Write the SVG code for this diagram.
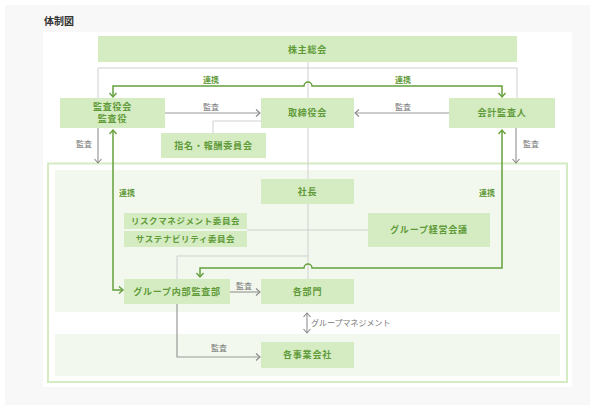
<svg xmlns="http://www.w3.org/2000/svg" width="595" height="411" viewBox="0 0 595 411">
<style>
.box{fill:#d5ecc3}
.bt{font-family:"Noto Sans CJK JP","Noto Sans",sans-serif;font-size:9px;font-weight:700;fill:#5f9a38;text-anchor:middle;letter-spacing:0.8px}
.bs{font-size:8.5px;letter-spacing:0.6px}
.lbl{font-family:"Noto Sans CJK JP","Noto Sans",sans-serif;font-size:8px;fill:#777;text-anchor:middle}
.gl{font-family:"Noto Sans CJK JP","Noto Sans",sans-serif;font-size:8px;font-weight:700;fill:#5f9a38;text-anchor:middle}
.thin{fill:none;stroke:#cfcfcf;stroke-width:1}
.ga{fill:none;stroke:#999;stroke-width:1.2}
.gr{fill:none;stroke:#65a03c;stroke-width:1.5}
</style>
<defs>
<marker id="ag" markerUnits="userSpaceOnUse" markerWidth="8" markerHeight="10" refX="5" refY="4" orient="auto-start-reverse">
<path d="M1,0.5 L5,4 L1,7.5" fill="none" stroke="#888" stroke-width="1.1"/>
</marker>
<marker id="agr" markerUnits="userSpaceOnUse" markerWidth="8" markerHeight="10" refX="5" refY="4" orient="auto-start-reverse">
<path d="M1,0.5 L5,4 L1,7.5" fill="none" stroke="#65a03c" stroke-width="1.4"/>
</marker>
</defs>
<rect x="5" y="5" width="585" height="400" fill="#f7f8f7"/>
<rect x="43" y="32" width="529" height="355" fill="#ffffff"/>
<text x="44" y="25" style="font-family:'Noto Sans CJK JP','Noto Sans',sans-serif;font-size:10px;font-weight:700;fill:#333">体制図</text>
<g id="container">
<rect x="48" y="163.5" width="519" height="218.5" fill="#ffffff" stroke="#d5ecc3" stroke-width="2"/>
<rect x="55" y="170" width="505" height="142" fill="#f3f8ee"/>
<rect x="55" y="334" width="505" height="42" fill="#f3f8ee"/>
</g>
<g id="connectors">
<path class="thin" d="M98,98 V68 H517 V98"/>
<path class="thin" d="M308,62 V279"/>
<path class="thin" d="M213,133 V121 H261"/>
<path class="thin" d="M247,230 H368"/>
<path class="thin" d="M308,256 H177 V279"/>
<path class="ga" d="M165,113 H260" marker-end="url(#ag)"/>
<path class="ga" d="M449,113 H355" marker-end="url(#ag)"/>
<path class="ga" d="M98,128 V163" marker-end="url(#ag)"/>
<path class="ga" d="M516,128 V163" marker-end="url(#ag)"/>
<path class="ga" d="M230,292 H260" marker-end="url(#ag)"/>
<path class="ga" d="M177,304 V357 H260" marker-end="url(#ag)"/>
<path class="ga" d="M307,313 V333" marker-start="url(#ag)" marker-end="url(#ag)"/>
<path class="gr" d="M113,97 V86 H304 A4,4 0 0 1 312,86 H502 V97" marker-start="url(#agr)" marker-end="url(#agr)"/>
<path class="gr" d="M113,130 V290 H123" marker-start="url(#agr)" marker-end="url(#agr)"/>
<path class="gr" d="M502,130 V268 H312 A4,4 0 0 0 304,268 H200 V277" marker-start="url(#agr)" marker-end="url(#agr)"/>
<text class="gl" x="211" y="83">連携</text>
<text class="gl" x="403" y="83">連携</text>
<text class="lbl" x="211" y="110">監査</text>
<text class="lbl" x="403" y="110">監査</text>
<text class="lbl" x="84" y="147">監査</text>
<text class="lbl" x="531" y="147">監査</text>
<text class="gl" x="127" y="196">連携</text>
<text class="gl" x="487" y="196">連携</text>
<text class="lbl" x="244" y="289">監査</text>
<text class="lbl" x="219" y="351">監査</text>
<text class="lbl" x="311" y="326" style="text-anchor:start">グループマネジメント</text>
</g>
<g id="n-shareholders"><rect class="box" x="98" y="36" width="419" height="26"/><text class="bt" x="307.5" y="52.5">株主総会</text></g>
<g id="n-auditboard"><rect class="box" x="60" y="98" width="105" height="30"/><text class="bt" x="112.5" y="110">監査役会</text><text class="bt" x="112.5" y="122">監査役</text></g>
<g id="n-board"><rect class="box" x="261" y="98" width="93" height="30"/><text class="bt" x="307.5" y="116">取締役会</text></g>
<g id="n-accountant"><rect class="box" x="449" y="98" width="106" height="30"/><text class="bt" x="502" y="116">会計監査人</text></g>
<g id="n-nomination"><rect class="box" x="161" y="133" width="105" height="25"/><text class="bt" x="213.5" y="148.5">指名・報酬委員会</text></g>
<g id="n-president"><rect class="box" x="261" y="179" width="93" height="25"/><text class="bt" x="307.5" y="194.5">社長</text></g>
<g id="n-risk"><rect class="box" x="124" y="213" width="123" height="16"/><text class="bt bs" x="185.5" y="224">リスクマネジメント委員会</text></g>
<g id="n-sustain"><rect class="box" x="124" y="231" width="123" height="16"/><text class="bt bs" x="185.5" y="242">サステナビリティ委員会</text></g>
<g id="n-groupmgmt"><rect class="box" x="368" y="213" width="122" height="34"/><text class="bt" x="429" y="233">グループ経営会議</text></g>
<g id="n-internalaudit"><rect class="box" x="124" y="279" width="106" height="25"/><text class="bt" x="177" y="294.5">グループ内部監査部</text></g>
<g id="n-depts"><rect class="box" x="261" y="279" width="93" height="25"/><text class="bt" x="307.5" y="294.5">各部門</text></g>
<g id="n-companies"><rect class="box" x="261" y="342" width="93" height="26"/><text class="bt" x="307.5" y="358">各事業会社</text></g>
</svg>
